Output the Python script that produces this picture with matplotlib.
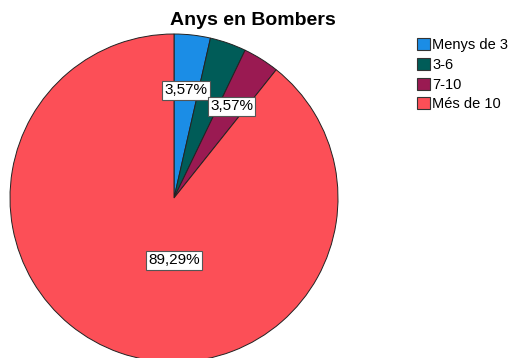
import matplotlib.pyplot as plt
import numpy as np
from matplotlib.patches import Patch

plt.rcParams['font.family'] = ['Liberation Sans', 'DejaVu Sans']

# Years in the fire brigade
categories = ["Menys de 3", "3-6", "7-10", "Més de 10"]
percentages = [3.57, 3.57, 3.57, 89.29]
colors = ["#1b8de6", "#005c58", "#9a1a52", "#fc4f57"]
shown_labels = [True, False, True, True]

fig = plt.figure(figsize=(5.10, 3.58), dpi=100)
ax = fig.add_axes([0, 0, 1, 1])

cx, cy, r = 174, 160, 164
wedges, _ = ax.pie(percentages, colors=colors, startangle=90, counterclock=False,
                   center=(cx, cy), radius=r, frame=True,
                   wedgeprops=dict(edgecolor="#222222", linewidth=0.7))
ax.set_xlim(0, 510)
ax.set_ylim(0, 358)
ax.set_aspect("equal")
ax.axis("off")

# labels, SPSS-style boxes
label_r = [0.66, 0.66, 0.66, 0.38]
for w, pct, show, lr in zip(wedges, percentages, shown_labels, label_r):
    if not show:
        continue
    ang = np.deg2rad((w.theta1 + w.theta2) / 2)
    if pct > 50:
        x, y = cx, cy - lr * r
    else:
        x, y = cx + lr * r * np.cos(ang), cy + lr * r * np.sin(ang)
    ax.text(x, y, f"{pct:.2f}%".replace(".", ","), ha="center", va="center", fontsize=11,
            bbox=dict(boxstyle="square,pad=0.15", fc="white", ec="#555555", lw=0.8))

fig.text(0.495, 0.943, "Anys en Bombers", ha="center", va="center", fontsize=14, fontweight="bold")

handles = [Patch(facecolor=c, edgecolor="#333333", linewidth=0.8) for c in colors]
fig.legend(handles, categories, loc="upper left", bbox_to_anchor=(0.818, 0.893), frameon=False,
           fontsize=10.5, handlelength=0.9, handleheight=0.9, handletextpad=0.12,
           labelspacing=0.38, borderaxespad=0, borderpad=0)

fig.savefig("out.png", dpi=100)
